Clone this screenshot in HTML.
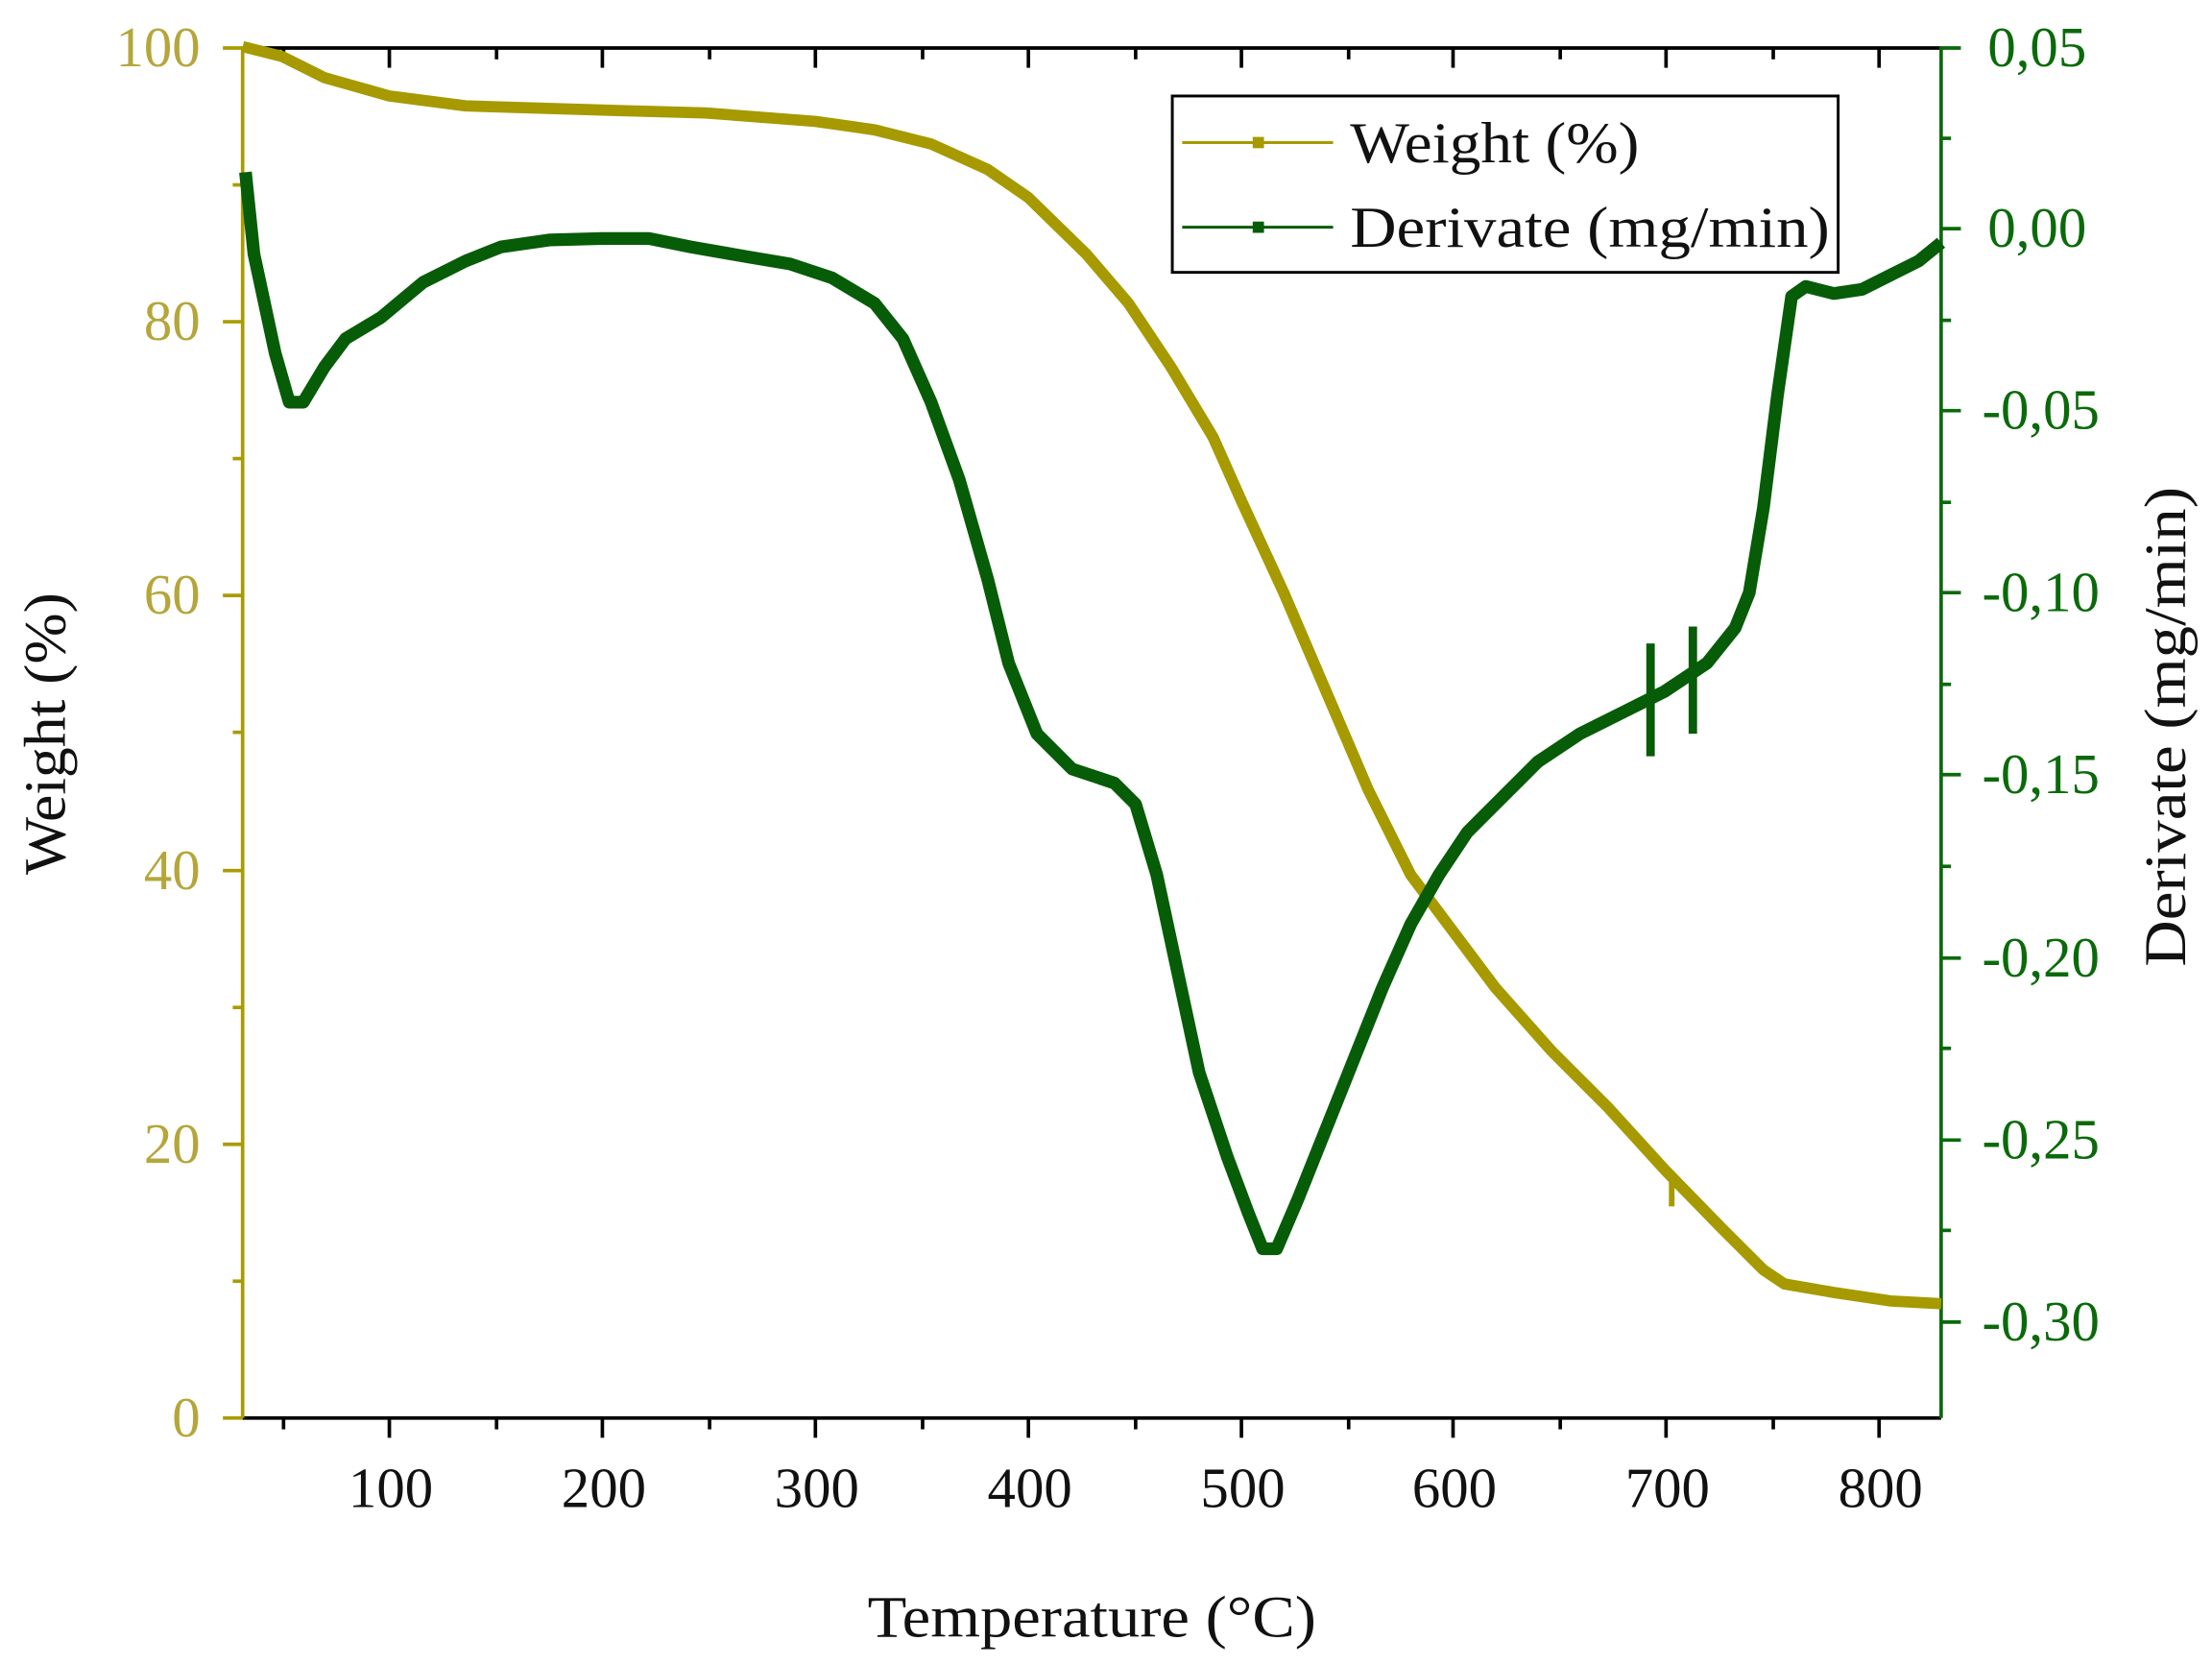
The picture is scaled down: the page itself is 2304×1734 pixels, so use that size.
<!DOCTYPE html>
<html><head><meta charset="utf-8"><style>html,body{margin:0;padding:0;background:#fff}svg{display:block}</style></head><body>
<svg width="2304" height="1734" viewBox="0 0 1568 1180" xmlns="http://www.w3.org/2000/svg" font-family="Liberation Serif, serif">
<rect width="1568" height="1180" fill="#fff"/>
<line x1="172" y1="34" x2="1376" y2="34" stroke="#000" stroke-width="2.5"/>
<g stroke="#000" stroke-width="2.5">
<line x1="201" y1="34" x2="201" y2="42"/><line x1="276" y1="34" x2="276" y2="48"/><line x1="352" y1="34" x2="352" y2="42"/><line x1="427" y1="34" x2="427" y2="48"/><line x1="503" y1="34" x2="503" y2="42"/><line x1="578" y1="34" x2="578" y2="48"/><line x1="654" y1="34" x2="654" y2="42"/><line x1="729" y1="34" x2="729" y2="48"/><line x1="805" y1="34" x2="805" y2="42"/><line x1="880" y1="34" x2="880" y2="48"/><line x1="956" y1="34" x2="956" y2="42"/><line x1="1030" y1="34" x2="1030" y2="48"/><line x1="1106" y1="34" x2="1106" y2="42"/><line x1="1181" y1="34" x2="1181" y2="48"/><line x1="1257" y1="34" x2="1257" y2="42"/><line x1="1332" y1="34" x2="1332" y2="48"/>
</g>
<line x1="172" y1="1005" x2="1376" y2="1005" stroke="#000" stroke-width="2.5"/>
<g stroke="#000" stroke-width="2.5">
<line x1="201" y1="1005" x2="201" y2="1013"/><line x1="276" y1="1005" x2="276" y2="1019"/><line x1="352" y1="1005" x2="352" y2="1013"/><line x1="427" y1="1005" x2="427" y2="1019"/><line x1="503" y1="1005" x2="503" y2="1013"/><line x1="578" y1="1005" x2="578" y2="1019"/><line x1="654" y1="1005" x2="654" y2="1013"/><line x1="729" y1="1005" x2="729" y2="1019"/><line x1="805" y1="1005" x2="805" y2="1013"/><line x1="880" y1="1005" x2="880" y2="1019"/><line x1="956" y1="1005" x2="956" y2="1013"/><line x1="1030" y1="1005" x2="1030" y2="1019"/><line x1="1106" y1="1005" x2="1106" y2="1013"/><line x1="1181" y1="1005" x2="1181" y2="1019"/><line x1="1257" y1="1005" x2="1257" y2="1013"/><line x1="1332" y1="1005" x2="1332" y2="1019"/>
</g>
<g font-size="40" fill="#111" text-anchor="middle">
<text x="277" y="1068">100</text><text x="428" y="1068">200</text><text x="579" y="1068">300</text><text x="730" y="1068">400</text><text x="881" y="1068">500</text><text x="1031" y="1068">600</text><text x="1182" y="1068">700</text><text x="1333" y="1068">800</text>
</g>
<text x="615" y="1160" font-size="42" textLength="318" lengthAdjust="spacingAndGlyphs" fill="#111">Temperature (°C)</text>
<line x1="172" y1="33" x2="172" y2="1005" stroke="#a99c00" stroke-width="2.5"/>
<g stroke="#a99c00" stroke-width="2.5">
<line x1="158" y1="34" x2="172" y2="34"/><line x1="165" y1="131" x2="172" y2="131"/><line x1="158" y1="228" x2="172" y2="228"/><line x1="165" y1="325" x2="172" y2="325"/><line x1="158" y1="422" x2="172" y2="422"/><line x1="165" y1="519" x2="172" y2="519"/><line x1="158" y1="617" x2="172" y2="617"/><line x1="165" y1="714" x2="172" y2="714"/><line x1="158" y1="811" x2="172" y2="811"/><line x1="165" y1="908" x2="172" y2="908"/><line x1="158" y1="1005" x2="172" y2="1005"/>
</g>
<g font-size="40" fill="#b5a63c" text-anchor="end">
<text x="142" y="47">100</text><text x="142" y="241">80</text><text x="142" y="435">60</text><text x="142" y="630">40</text><text x="142" y="824">20</text><text x="142" y="1018">0</text>
</g>
<text transform="translate(46,620) rotate(-90)" font-size="42" textLength="200" lengthAdjust="spacingAndGlyphs" fill="#111">Weight (%)</text>
<line x1="1376" y1="33" x2="1376" y2="1005" stroke="#0a6a0a" stroke-width="2.5"/>
<g stroke="#0a6a0a" stroke-width="2.5">
<line x1="1376" y1="34" x2="1390" y2="34"/><line x1="1376" y1="98" x2="1383" y2="98"/><line x1="1376" y1="162" x2="1390" y2="162"/><line x1="1376" y1="227" x2="1383" y2="227"/><line x1="1376" y1="291" x2="1390" y2="291"/><line x1="1376" y1="356" x2="1383" y2="356"/><line x1="1376" y1="420" x2="1390" y2="420"/><line x1="1376" y1="485" x2="1383" y2="485"/><line x1="1376" y1="549" x2="1390" y2="549"/><line x1="1376" y1="614" x2="1383" y2="614"/><line x1="1376" y1="679" x2="1390" y2="679"/><line x1="1376" y1="743" x2="1383" y2="743"/><line x1="1376" y1="808" x2="1390" y2="808"/><line x1="1376" y1="872" x2="1383" y2="872"/><line x1="1376" y1="937" x2="1390" y2="937"/>
</g>
<g font-size="40" fill="#0a6a0a" text-anchor="start">
<text x="1409" y="47">0,05</text><text x="1409" y="175">0,00</text><text x="1405" y="304">-0,05</text><text x="1405" y="433">-0,10</text><text x="1405" y="562">-0,15</text><text x="1405" y="692">-0,20</text><text x="1405" y="821">-0,25</text><text x="1405" y="950">-0,30</text>
</g>
<text transform="translate(1549,685) rotate(-90)" font-size="42" textLength="340" lengthAdjust="spacingAndGlyphs" fill="#111">Derivate (mg/min)</text>
<polyline fill="none" stroke="#a69a00" stroke-width="8" stroke-linejoin="round" points="172,33 200,40 230,55 276,68 330,75 427,78 500,80 578,86 620,92 660,102 700,120 729,140 770,180 800,215 830,260 860,310 880,355 910,420 940,490 970,560 1000,620 1030,660 1060,700 1100,745 1140,785 1181,830 1220,870 1250,900 1265,910 1300,916 1340,922 1376,924"/>
<line x1="1185" y1="830" x2="1185" y2="855" stroke="#a69a00" stroke-width="4"/>
<polyline fill="none" stroke="#075c07" stroke-width="9" stroke-linejoin="round" points="174,122 180,180 195,250 205,285 215,285 230,260 245,240 270,225 300,200 330,185 355,175 390,170 427,169 460,169 490,175 530,182 560,187 590,197 620,215 640,240 660,285 680,340 700,410 715,470 735,520 760,545 790,555 805,570 820,620 835,690 850,760 870,820 885,860 895,885 905,885 920,850 940,800 960,750 980,700 1000,655 1020,620 1040,590 1060,570 1090,540 1120,520 1150,505 1180,490 1210,470 1230,445 1240,420 1250,360 1260,280 1270,210 1280,203 1300,208 1320,205 1340,195 1360,185 1376,172"/>
<line x1="1170" y1="456" x2="1170" y2="536" stroke="#075c07" stroke-width="6"/>
<line x1="1200" y1="444" x2="1200" y2="520" stroke="#075c07" stroke-width="6"/>
<rect x="831" y="68" width="472" height="125" fill="#fff" stroke="#000" stroke-width="2"/>
<line x1="838" y1="101" x2="945" y2="101" stroke="#a69a00" stroke-width="2"/>
<rect x="888" y="97" width="8" height="8" fill="#a69a00"/>
<line x1="838" y1="161" x2="945" y2="161" stroke="#075c07" stroke-width="2"/>
<rect x="888" y="157" width="8" height="8" fill="#075c07"/>
<text x="957" y="115" font-size="41" textLength="205" lengthAdjust="spacingAndGlyphs" fill="#111">Weight (%)</text>
<text x="957" y="175" font-size="41" textLength="340" lengthAdjust="spacingAndGlyphs" fill="#111">Derivate (mg/min)</text>
</svg>
</body></html>
